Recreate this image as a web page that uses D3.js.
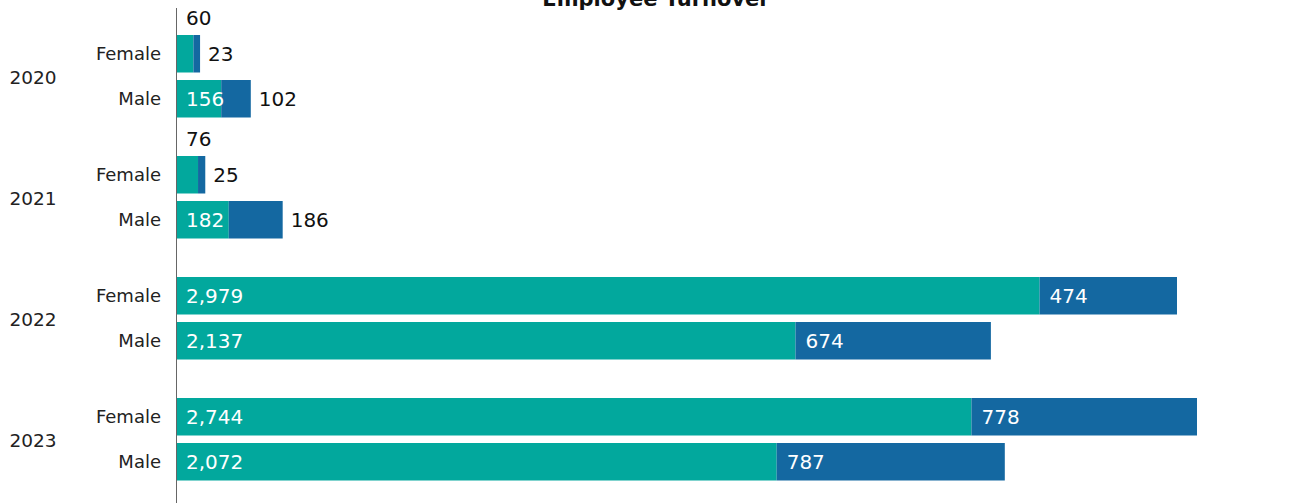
<!DOCTYPE html>
<html><head><meta charset="utf-8">
<script src="https://cdn.jsdelivr.net/npm/d3@7"></script>
<style>body{margin:0;background:#fff}svg{display:block}</style>
</head><body>
<svg id="c" width="1291" height="503"></svg>
<script>
const years = ["2020","2021","2022","2023"];
const genders = ["Female","Male"];
const seriesA = [60,156,76,182,2979,2137,2744,2072];   // teal segment, order: year x gender
const seriesB = [23,102,25,186,474,674,778,787];      // blue segment
const title = "Employee Turnover";

const font = "'DejaVu Sans', sans-serif";
const svg = d3.select("#c");
const x = d3.scaleLinear().domain([0, 3522]).range([176, 1197]);
const yYear = d3.scaleBand().domain(years).range([35, 35 + 121*4]);
const yG = d3.scaleBand().domain(genders).range([0, 82.5]).paddingInner(7.5/45);

const rows = [];
years.forEach((yr,i)=>genders.forEach((g,j)=>{
  const k=i*2+j; rows.push({yr,g,a:seriesA[k],b:seriesB[k]});
}));
const fmt = d3.format(",");
const rowY = d=>yYear(d.yr)+yG(d.g);
const bh = yG.bandwidth();

svg.append("text").attr("x",656).attr("y",6).attr("text-anchor","middle")
  .attr("font-family",font).attr("font-weight","bold").attr("font-size",21).attr("fill","#111").text(title);

const gr = svg.selectAll("g.row").data(rows).join("g");
gr.append("rect").attr("x",x(0)).attr("y",rowY).attr("height",bh)
  .attr("width",d=>x(d.a)-x(0)).attr("fill","#02A89D");
gr.append("rect").attr("x",d=>x(d.a)).attr("y",rowY).attr("height",bh)
  .attr("width",d=>x(d.a+d.b)-x(d.a)).attr("fill","#1468A1");

// teal labels
gr.append("text").attr("font-family",font).attr("font-size",20)
  .attr("x",x(0)+10)
  .attr("y",d=>(x(d.a)-x(0))>45 ? rowY(d)+bh/2 : rowY(d)-17)
  .attr("dy","0.36em")
  .attr("fill",d=>(x(d.a)-x(0))>45 ? "#fff" : "#111")
  .text(d=>fmt(d.a));
// blue labels
gr.append("text").attr("font-family",font).attr("font-size",20)
  .attr("x",d=>d.b>300 ? x(d.a)+10 : x(d.a+d.b)+8)
  .attr("y",d=>rowY(d)+bh/2).attr("dy","0.36em")
  .attr("fill",d=>(d.b>300) ? "#fff" : "#111")
  .text(d=>fmt(d.b));

// gender labels
gr.append("text").attr("font-family",font).attr("font-size",18).attr("fill","#222")
  .attr("text-anchor","end").attr("x",161).attr("y",d=>rowY(d)+bh/2).attr("dy","0.36em")
  .text(d=>d.g);
// year labels
svg.selectAll("text.yr").data(years).join("text").attr("class","yr")
  .attr("font-family",font).attr("font-size",18.5).attr("fill","#222").attr("text-anchor","middle")
  .attr("x",33).attr("y",d=>yYear(d)+42).attr("dy","0.36em").text(d=>d);

svg.append("line").attr("x1",176.5).attr("x2",176.5).attr("y1",8).attr("y2",503)
  .attr("stroke","#666").attr("stroke-width",1);
</script>
</body></html>
